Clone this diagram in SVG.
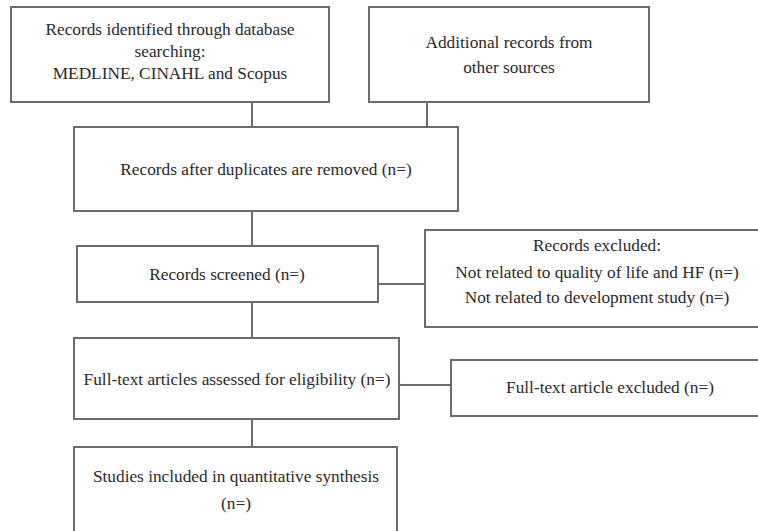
<svg xmlns="http://www.w3.org/2000/svg" width="758" height="531" viewBox="0 0 758 531">
<style>
.box{fill:#fff;stroke:#6b6b6b;stroke-width:2}
.ln{fill:none;stroke:#6b6b6b;stroke-width:2}
text{font-family:"Liberation Serif","Times New Roman",serif;font-size:17.3px;fill:#2a2a2a;text-anchor:middle}
</style>
<rect width="758" height="531" fill="#fff"/>
<g id="connectors">
<path class="ln" d="M252,102V127M427,102V127M252,211V246M378,284H425M252,302V338M399,385H451M252,419V447"/>
</g>
<g id="n1"><rect class="box" x="11" y="7" width="318" height="95"/>
<text x="170" y="35">Records identified through database</text>
<text x="170" y="57">searching:</text>
<text x="170" y="79">MEDLINE, CINAHL and Scopus</text></g>
<g id="n2"><rect class="box" x="369" y="7" width="280" height="95"/>
<text x="509" y="48">Additional records from</text>
<text x="509" y="73">other sources</text></g>
<g id="n3"><rect class="box" x="74" y="127" width="384" height="84"/>
<text x="266" y="175">Records after duplicates are removed (n=)</text></g>
<g id="n4"><rect class="box" x="77" y="246" width="301" height="56"/>
<text x="227" y="280">Records screened (n=)</text></g>
<g id="n5"><rect class="box" x="425" y="230" width="345" height="97"/>
<text x="597" y="251">Records excluded:</text>
<text x="597" y="278">Not related to quality of life and HF (n=)</text>
<text x="597" y="303">Not related to development study (n=)</text></g>
<g id="n6"><rect class="box" x="74" y="338" width="325" height="81"/>
<text x="237" y="385">Full-text articles assessed for eligibility (n=)</text></g>
<g id="n7"><rect class="box" x="451" y="360" width="319" height="56"/>
<text x="610" y="393">Full-text article excluded (n=)</text></g>
<g id="n8"><rect class="box" x="74" y="447" width="323" height="95"/>
<text x="236" y="482">Studies included in quantitative synthesis</text>
<text x="236" y="509">(n=)</text></g>
</svg>
